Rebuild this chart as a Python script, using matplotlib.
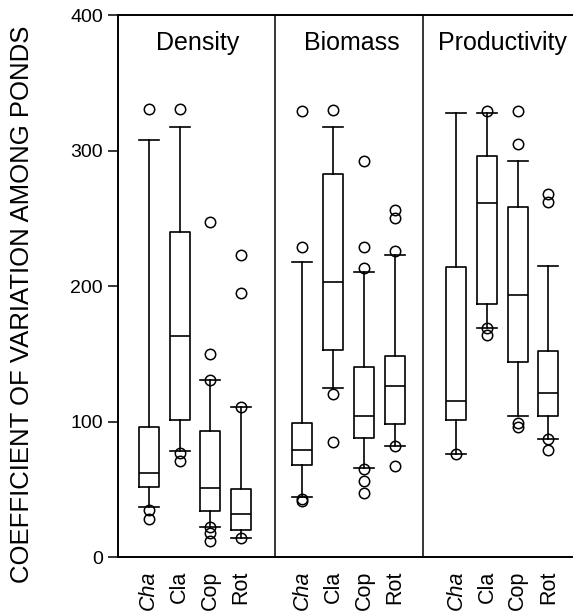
import matplotlib
matplotlib.use("Agg")
import matplotlib.pyplot as plt

# panels and groups
panels = ["Density", "Biomass", "Productivity"]
groups = ["Cha", "Cla", "Cop", "Rot"]

# box statistics, one list per panel (Cha, Cla, Cop, Rot)
density_q1 = [52, 101, 34, 20]
density_med = [62, 163, 51, 32]
density_q3 = [96, 240, 93, 50]
density_lo = [37, 78, 22, 14]
density_hi = [308, 317, 131, 111]
density_fliers = [[331, 35, 28], [331, 77, 71], [247, 150, 131, 22, 18, 12], [223, 195, 111, 14]]

biomass_q1 = [68, 153, 88, 98]
biomass_med = [79, 203, 104, 126]
biomass_q3 = [99, 283, 140, 148]
biomass_lo = [44, 125, 66, 82]
biomass_hi = [218, 317, 210, 223]
biomass_fliers = [[329, 229, 43, 41], [330, 120, 85], [292, 229, 213, 65, 56, 47], [256, 250, 226, 82, 67]]

prod_q1 = [101, 187, 144, 104]
prod_med = [115, 261, 193, 121]
prod_q3 = [214, 296, 258, 152]
prod_lo = [76, 169, 104, 87]
prod_hi = [328, 328, 292, 215]
prod_fliers = [[76], [329, 169, 164], [329, 305, 99, 96], [268, 262, 87, 79]]

yticks = [0, 100, 200, 300, 400]

plt.rcParams['font.family'] = ['Liberation Sans', 'DejaVu Sans']

fig = plt.figure(figsize=(5.73, 6.15), dpi=100)
ax = fig.add_axes([0.206, 0.0943, 0.794, 0.8813])

panel_data = [
    (density_q1, density_med, density_q3, density_lo, density_hi, density_fliers),
    (biomass_q1, biomass_med, biomass_q3, biomass_lo, biomass_hi, biomass_fliers),
    (prod_q1, prod_med, prod_q3, prod_lo, prod_hi, prod_fliers),
]

stats = []
positions = []
labels = []
for k, (q1, med, q3, lo, hi, fl) in enumerate(panel_data):
    for i, g in enumerate(groups):
        stats.append(dict(q1=q1[i], med=med[i], q3=q3[i], whislo=lo[i], whishi=hi[i],
                          fliers=fl[i], label=g))
        positions.append(1 + i + 5 * k)
        labels.append(g)

lw = 1.2
ax.bxp(stats, positions=positions, widths=0.65, capwidths=0.65,
       boxprops=dict(color='black', linewidth=lw),
       whiskerprops=dict(color='black', linewidth=lw),
       capprops=dict(color='black', linewidth=lw),
       medianprops=dict(color='black', linewidth=lw),
       flierprops=dict(marker='o', markersize=7.5, markerfacecolor='none',
                       markeredgecolor='black', markeredgewidth=1.1, linestyle='none'))

# panel separators
for xs in [5.12, 9.92]:
    ax.axvline(xs, color='black', linewidth=1.1)

# panel titles
for k, name in enumerate(panels):
    ax.text(2.6 + 5 * k - (0.1 if k == 2 else 0), 379, name, ha='center', va='center', fontsize=18)

ax.set_xlim(0, 14.8)
ax.set_ylim(0, 400)
ax.set_yticks(yticks)
ax.tick_params(axis='y', direction='out', length=7, width=1.1, labelsize=14, pad=4)
ax.set_xticks(positions)
ax.set_xticklabels(labels, rotation=90, fontsize=15.5)
for t in ax.get_xticklabels():
    if t.get_text() == "Cha":
        t.set_fontstyle('italic')
ax.tick_params(axis='x', length=0, pad=10)

for s in ['left', 'bottom', 'top']:
    ax.spines[s].set_linewidth(1.4)
ax.spines['right'].set_visible(False)

fig.text(0.038, 0.505, "COEFFICIENT OF VARIATION AMONG PONDS", rotation=90,
         ha='center', va='center', fontsize=18.5)

fig.savefig("out.png", dpi=100)
